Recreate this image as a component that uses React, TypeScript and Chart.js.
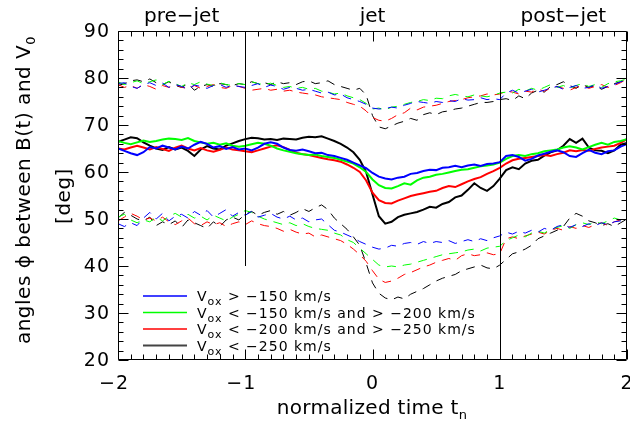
import { useEffect, useRef } from "react";
import { Chart, registerables } from "chart.js";

Chart.register(...registerables);

// normalized time t_n
const T = [
  -2.0, -1.95, -1.9, -1.85, -1.8, -1.75, -1.7, -1.65, -1.6, -1.55,
  -1.5, -1.45, -1.4, -1.35, -1.3, -1.25, -1.2, -1.15, -1.1, -1.05,
  -1.0, -0.95, -0.9, -0.85, -0.8, -0.75, -0.7, -0.65, -0.6, -0.55,
  -0.5, -0.45, -0.4, -0.35, -0.3, -0.25, -0.2, -0.15, -0.1, -0.05,
  0.0, 0.05, 0.1, 0.15, 0.2, 0.25, 0.3, 0.35, 0.4, 0.45,
  0.5, 0.55, 0.6, 0.65, 0.7, 0.75, 0.8, 0.85, 0.9, 0.95,
  1.0, 1.05, 1.1, 1.15, 1.2, 1.25, 1.3, 1.35, 1.4, 1.45,
  1.5, 1.55, 1.6, 1.65, 1.7, 1.75, 1.8, 1.85, 1.9, 1.95, 2.0,
];

// medians
const BLUE_MED = [
  65.0, 64.5, 64.0, 63.6, 64.2, 65.3, 65.0, 65.6, 65.2, 64.8,
  65.4, 65.0, 65.8, 66.4, 66.0, 65.2, 65.5, 64.9, 65.3, 64.8,
  65.0, 64.6, 65.2, 66.0, 66.3, 66.0, 65.2, 64.7, 64.5, 64.8,
  64.4, 64.0, 64.1, 63.6, 63.4, 63.0, 62.6, 62.0, 61.4, 60.8,
  59.8, 59.0, 58.6, 58.4, 58.8, 59.0, 59.6, 59.8, 60.2, 60.5,
  60.4, 60.9, 61.0, 61.3, 61.0, 61.4, 61.6, 61.3, 61.7, 61.8,
  62.1, 63.4, 63.6, 63.2, 62.4, 62.8, 63.5, 63.9, 64.3, 64.6,
  64.2, 63.4, 63.2, 64.0, 64.7, 64.1, 63.8, 64.4, 64.6, 65.4, 66.0,
];
const GREEN_MED = [
  66.6, 66.2, 65.9, 66.3, 66.7, 66.4, 66.6, 66.9, 67.1, 67.0,
  66.8, 67.2, 66.6, 66.3, 66.0, 66.2, 65.8, 66.1, 65.6, 65.4,
  65.6, 65.9, 66.2, 66.0, 65.6, 65.0, 64.6, 64.3, 64.0, 63.8,
  63.6, 63.7, 63.4, 63.2, 63.0, 62.6, 62.2, 61.8, 61.0, 60.0,
  58.4, 57.2, 56.6, 56.5, 57.0, 57.6, 57.3, 58.2, 58.8, 59.0,
  59.4, 59.6, 59.9, 60.2, 60.5, 60.6, 60.9, 61.2, 61.4, 61.6,
  62.0, 62.8, 63.4, 63.6, 63.4, 63.8, 64.0, 64.4, 64.6, 64.8,
  65.2, 65.5, 65.2, 64.8, 65.3, 65.8, 66.2, 65.8, 66.4, 66.6, 67.0,
];
const RED_MED = [
  65.0, 64.8, 65.2, 65.6, 65.2, 64.8, 65.3, 64.9, 64.5, 65.2,
  65.6, 65.0, 64.6, 65.1, 64.6, 64.3, 64.7, 65.2, 64.8, 64.6,
  64.4, 64.2, 64.6, 65.0, 65.4, 65.7, 65.3, 64.7, 64.1, 63.8,
  63.6, 63.3, 63.0, 62.7, 62.5, 62.2, 61.6, 60.9, 60.0, 58.2,
  55.6, 54.0, 53.4, 53.3, 53.9, 54.4, 54.9, 55.2, 55.5, 55.8,
  56.0, 56.6, 57.0, 56.8, 57.4, 58.0, 58.5, 58.9, 59.6, 60.2,
  60.9, 61.8, 62.5, 62.8, 63.0, 63.2, 63.4, 63.6, 63.4, 63.8,
  64.1, 64.6, 64.4, 64.7, 64.5, 64.9, 65.2, 65.4, 65.6, 66.2, 67.0,
];
const BLACK_MED = [
  66.4, 66.9, 67.4, 67.2, 66.3, 65.6, 65.0, 64.7, 65.3, 64.8,
  65.2, 64.5, 63.4, 64.8, 65.5, 65.0, 64.8, 65.6, 66.1, 66.6,
  67.0, 67.3, 67.2, 66.9, 67.0, 66.8, 67.1, 67.0, 66.9, 67.3,
  67.5, 67.4, 67.6, 67.1, 66.6, 66.0, 65.2, 64.2, 62.6, 60.0,
  55.2, 50.6, 49.0, 49.4, 50.4, 50.9, 51.2, 51.5, 52.0, 52.6,
  52.4, 53.2, 53.6, 54.6, 55.0, 56.2, 57.6, 56.6, 56.0, 57.0,
  58.6, 60.4, 61.0, 60.6, 61.8, 62.4, 62.6, 63.5, 64.2, 64.6,
  65.6, 67.0, 66.2, 67.1, 65.2, 64.6, 64.5, 64.0, 64.6, 65.8, 66.2,
];

// upper quartiles
const BLUE_UP = [
  78.8, 79.0, 78.2, 77.8, 78.6, 79.0, 78.4, 78.9, 78.0, 78.6,
  78.2, 77.6, 78.5, 78.2, 77.8, 78.4, 78.6, 78.0, 78.5, 78.2,
  78.0, 78.4, 78.8, 78.0, 78.5, 78.2, 77.6, 78.0, 77.8, 77.4,
  77.6, 77.2, 76.8, 77.0, 76.4, 76.6, 75.8, 75.4, 75.0, 74.4,
  73.6, 73.4, 73.5, 73.8, 73.6, 74.2, 74.6, 75.0, 74.8, 74.6,
  75.0, 74.8, 75.2, 75.0, 75.6, 75.3, 75.4, 75.8, 75.4, 75.6,
  75.4, 76.8, 77.4, 76.8, 77.2, 77.6, 77.0, 77.4, 77.8, 78.2,
  77.6, 78.0, 78.4, 77.8, 78.0, 78.6, 77.8, 78.2, 78.6, 79.2, 79.6,
];
const GREEN_UP = [
  79.2, 78.6, 79.0, 79.4, 78.8, 79.2, 79.6, 78.6, 79.3, 78.8,
  78.2, 79.0, 78.6, 79.2, 78.7, 78.4, 79.0, 78.6, 78.4, 78.8,
  78.6, 79.2, 78.8, 78.6, 78.9, 78.4, 78.0, 78.2, 77.8, 78.0,
  77.6, 77.8, 77.2, 77.0, 76.6, 76.8, 76.2, 75.8, 75.4, 74.6,
  73.4, 73.6, 73.2, 73.8, 74.0, 74.4, 74.8, 75.0, 75.4, 75.2,
  75.7, 75.6, 76.2, 76.5, 76.2, 76.0, 76.4, 76.2, 76.0, 76.3,
  76.8, 77.0, 76.8, 77.6, 77.2, 77.8, 77.4, 78.0, 78.6, 78.0,
  78.4, 77.8, 78.4, 78.8, 78.2, 78.6, 78.0, 78.8, 79.2, 79.4, 79.8,
];
const RED_UP = [
  78.6, 78.0, 78.4, 77.8, 78.6, 78.2, 77.6, 78.4, 78.0, 78.6,
  78.0, 77.8, 78.4, 77.8, 78.2, 78.6, 78.0, 77.8, 78.4, 78.2,
  77.8, 77.4, 77.6, 77.8, 77.4, 77.6, 77.2, 77.4, 77.0, 76.8,
  76.6, 76.4, 76.0, 75.8, 75.6, 75.4, 74.8, 74.4, 74.0, 73.0,
  71.6, 71.0, 70.8, 71.4, 72.2, 72.6, 73.6, 73.2, 73.8, 74.0,
  74.2, 74.6, 75.0, 75.2, 75.4, 75.8, 76.0, 76.2, 76.6, 76.4,
  76.6, 77.2, 77.0, 76.6, 77.2, 77.0, 77.6, 77.2, 77.8, 78.2,
  77.8, 77.4, 78.0, 78.4, 77.8, 78.2, 78.6, 78.0, 78.4, 79.0, 79.8,
];
const BLACK_UP = [
  78.4, 78.8, 79.4, 79.6, 79.2, 79.8, 79.0, 78.6, 79.2, 78.4,
  78.0, 78.8, 77.4, 78.2, 78.6, 78.2, 78.8, 78.6, 78.4, 78.8,
  78.6, 79.2, 78.8, 79.0, 78.6, 79.2, 78.8, 79.0, 78.6, 79.2,
  79.4, 78.8, 79.0, 79.4, 78.6, 78.2, 77.8, 77.4, 77.8, 76.4,
  72.0, 69.6, 69.2, 69.8, 70.4, 70.8, 71.4, 71.0, 72.2, 72.6,
  72.2, 72.8, 73.0, 73.4, 73.6, 74.0, 74.4, 74.8, 74.8, 75.0,
  75.4, 75.6, 75.2, 76.2, 75.6, 76.8, 77.4, 77.0, 78.2, 78.6,
  79.2, 78.4, 77.8, 78.6, 78.0, 78.4, 77.6, 78.2, 78.8, 79.2, 79.6,
];

// lower quartiles
const BLUE_LO = [
  49.0, 48.4, 49.2, 48.6, 50.2, 51.4, 50.0, 51.2, 49.6, 50.6,
  51.0, 50.2, 51.6, 50.8, 51.8, 50.4, 51.2, 52.0, 50.6, 51.4,
  50.8, 51.6, 50.4, 50.8, 51.2, 50.4, 50.0, 50.6, 49.8, 50.2,
  49.4, 49.8, 50.0, 48.8, 47.6, 47.2, 46.6, 46.0, 45.2, 44.6,
  44.0, 43.6, 43.8, 44.4, 44.2, 44.8, 45.0, 44.6, 45.2, 44.8,
  45.2, 45.0, 45.4, 44.8, 45.2, 45.6, 45.2, 45.8, 45.4, 46.0,
  46.4, 47.2, 46.8, 47.4, 47.0, 47.6, 47.2, 48.0, 47.6, 48.4,
  48.8, 48.2, 48.8, 48.4, 49.0, 48.6, 49.2, 48.8, 49.4, 49.6, 50.2,
];
const GREEN_LO = [
  50.4, 51.0, 49.8, 49.2, 49.8, 49.4, 50.4, 49.6, 50.6, 51.2,
  50.4, 51.0, 50.2, 50.6, 49.8, 50.8, 50.2, 49.6, 50.4, 51.0,
  51.8, 51.4, 50.6, 50.0, 49.6, 49.2, 48.8, 49.2, 48.6, 49.0,
  48.4, 48.0, 47.8, 47.6, 47.0, 46.6, 45.6, 45.0, 43.8, 42.6,
  41.4, 40.2, 39.8, 40.0, 39.8, 40.2, 40.4, 40.8, 41.2, 41.6,
  42.0, 42.4, 42.6, 42.8, 43.0, 43.4, 43.6, 43.2, 43.8, 44.0,
  44.2, 45.4, 46.0, 46.6, 46.2, 47.0, 47.4, 47.0, 47.8, 48.2,
  48.6, 48.0, 48.8, 49.2, 48.8, 49.4, 49.0, 49.6, 50.2, 49.8, 50.4,
];
const RED_LO = [
  49.6, 50.4, 51.2, 50.6, 49.8, 50.2, 49.6, 50.4, 49.4, 48.8,
  49.6, 50.2, 49.0, 48.6, 49.4, 48.8, 49.2, 48.4, 49.0, 49.4,
  48.8, 49.6, 49.0, 48.6, 48.4, 48.0, 47.4, 47.8, 47.2, 46.8,
  47.0, 46.2, 46.6, 46.2, 45.8, 45.4, 44.6, 43.6, 42.4, 41.0,
  39.0, 37.2, 36.5, 36.8, 37.4, 38.2, 38.6, 39.2, 39.8, 40.2,
  40.8, 41.2, 41.6, 41.2, 42.2, 42.6, 42.2, 42.4, 42.8, 42.4,
  42.6, 45.8, 46.2, 45.8, 46.4, 46.8, 47.2, 46.8, 47.6, 48.0,
  47.6, 48.4, 48.0, 48.6, 48.2, 48.8, 49.2, 48.6, 49.4, 49.8, 50.6,
];
const BLACK_LO = [
  50.2, 51.4, 50.8, 50.0, 49.6, 50.4, 48.6, 49.4, 48.8, 49.6,
  48.2, 49.8, 49.2, 48.6, 48.0, 49.4, 48.4, 49.8, 50.4, 49.8,
  51.0, 51.6, 50.8, 51.4, 51.8, 51.0, 51.6, 50.8, 51.4, 52.2,
  51.6, 52.4, 53.0, 52.0, 50.2, 49.0, 47.8, 46.2, 44.4, 40.6,
  36.4, 34.2, 33.2, 32.8, 33.4, 33.0, 34.0, 34.6, 35.2, 36.0,
  36.8, 37.4, 37.8, 38.2, 39.0, 39.4, 39.8, 40.2, 39.6, 39.4,
  40.2, 41.4, 42.6, 43.0, 43.6, 44.4, 45.8, 46.4, 47.0, 47.6,
  48.4, 50.2, 51.2, 50.6, 49.6, 49.2, 48.6, 49.0, 48.4, 49.2, 50.0,
];

const COLORS = ["#0000ff", "#00ff00", "#ff0000", "#000000"];
const LEGEND_TEXT = [
  " > \u2212150 km/s",
  " < \u2212150 km/s and > \u2212200 km/s",
  " < \u2212200 km/s and > \u2212250 km/s",
  " < \u2212250 km/s",
];
const PHASES = [
  { label: "pre\u2212jet", at: -1.5 },
  { label: "jet", at: 0 },
  { label: "post\u2212jet", at: 1.5 },
];
const X_TICKS = [-2, -1, 0, 1, 2];
const Y_TICKS = [20, 30, 40, 50, 60, 70, 80, 90];

const FONT = "'DejaVu Sans', sans-serif";
const W = "400";

const MEDIANS = [BLUE_MED, GREEN_MED, RED_MED, BLACK_MED];
const UPPERS = [BLUE_UP, GREEN_UP, RED_UP, BLACK_UP];
const LOWERS = [BLUE_LO, GREEN_LO, RED_LO, BLACK_LO];

const pts = (arr: number[]) => arr.map((v, i) => ({ x: T[i], y: v }));

function drawParts(
  ctx: CanvasRenderingContext2D,
  parts: { t: string; sub?: boolean }[],
  x: number,
  y: number,
  size: number,
  subSize: number,
  subDrop: number,
  spacing: number,
  align: "left" | "center"
) {
  ctx.textAlign = "left";
  ctx.textBaseline = "alphabetic";
  (ctx as any).letterSpacing = spacing + "px";
  let total = 0;
  const widths = parts.map((p) => {
    ctx.font = `${W} ${p.sub ? subSize : size}px ${FONT}`;
    const w = ctx.measureText(p.t).width;
    total += w;
    return w;
  });
  let cx = align === "center" ? x - total / 2 : x;
  parts.forEach((p, i) => {
    ctx.font = `${W} ${p.sub ? subSize : size}px ${FONT}`;
    ctx.fillText(p.t, cx, p.sub ? y + subDrop : y);
    cx += widths[i];
  });
  (ctx as any).letterSpacing = "0px";
}

const decor = {
  id: "decor",
  afterDatasetsDraw(chart: any) {
    const { ctx, chartArea: a, scales } = chart;
    const xs = scales.x;
    const ys = scales.y;
    const L = Math.round(a.left) + 0.5;
    const R = Math.round(a.right) - 0.5;
    const Tp = Math.round(a.top) + 0.5;
    const B = Math.round(a.bottom) - 0.5;
    ctx.save();
    ctx.strokeStyle = "#000";
    ctx.fillStyle = "#000";
    ctx.lineWidth = 1;
    ctx.setLineDash([]);
    ctx.beginPath();
    ctx.rect(L, Tp, R - L, B - Tp);
    for (let i = -20; i <= 20; i++) {
      const px = Math.round(xs.getPixelForValue(i / 10)) + 0.5;
      const len = i % 10 === 0 ? 10 : 5;
      ctx.moveTo(px, B);
      ctx.lineTo(px, B - len);
      ctx.moveTo(px, Tp);
      ctx.lineTo(px, Tp + len);
    }
    for (let v = 20; v <= 90; v += 2) {
      const py = Math.round(ys.getPixelForValue(v)) + 0.5;
      const len = v % 10 === 0 ? 10 : 5;
      ctx.moveTo(L, py);
      ctx.lineTo(L + len, py);
      ctx.moveTo(R, py);
      ctx.lineTo(R - len, py);
    }
    const p1 = Math.round(xs.getPixelForValue(-1)) + 0.5;
    ctx.moveTo(p1, Math.round(ys.getPixelForValue(40)));
    ctx.lineTo(p1, Tp);
    const p2 = Math.round(xs.getPixelForValue(1)) + 0.5;
    ctx.moveTo(p2, B);
    ctx.lineTo(p2, Tp);
    ctx.stroke();

    // tick labels
    ctx.font = `${W} 19px ${FONT}`;
    (ctx as any).letterSpacing = "1px";
    ctx.textAlign = "right";
    ctx.textBaseline = "middle";
    Y_TICKS.forEach((v) => {
      ctx.fillText(String(v), 110, ys.getPixelForValue(v) + 1);
    });
    ctx.textAlign = "center";
    X_TICKS.forEach((v) => {
      const s = v < 0 ? "\u2212" + Math.abs(v) : String(v);
      ctx.fillText(s, xs.getPixelForValue(v) + (v < 0 ? -4 : 0), 384);
    });
    (ctx as any).letterSpacing = "0px";

    PHASES.forEach((p) => {
      drawParts(ctx, [{ t: p.label }], xs.getPixelForValue(p.at), 22, 20, 14, 0, 0, "center");
    });

    drawParts(
      ctx,
      [{ t: "normalized time t" }, { t: "n", sub: true }],
      372,
      414,
      20,
      13,
      5,
      0.3,
      "center"
    );

    ctx.save();
    ctx.translate(30, 190);
    ctx.rotate(-Math.PI / 2);
    drawParts(
      ctx,
      [{ t: "angles \u03d5 between B(t) and V" }, { t: "0", sub: true }],
      0,
      0,
      20,
      13,
      5,
      0.5,
      "center"
    );
    ctx.restore();
    ctx.save();
    ctx.translate(70, 196);
    ctx.rotate(-Math.PI / 2);
    drawParts(ctx, [{ t: "[deg]" }], 0, 0, 20, 13, 0, 0.5, "center");
    ctx.restore();

    // legend
    const ly = [296, 312.5, 329, 345.5];
    COLORS.forEach((c, i) => {
      ctx.beginPath();
      ctx.setLineDash([]);
      ctx.strokeStyle = i === 3 ? "#444444" : c;
      ctx.lineWidth = i === 3 ? 2 : 1.5;
      ctx.moveTo(143, ly[i]);
      ctx.lineTo(187, ly[i]);
      ctx.stroke();
      ctx.fillStyle = "#000";
      drawParts(
        ctx,
        [{ t: "V" }, { t: "ox", sub: true }, { t: LEGEND_TEXT[i] }],
        197,
        ly[i] + 5,
        14,
        11,
        4,
        1,
        "left"
      );
    });
    ctx.restore();
  },
};

export default function App() {
  const ref = useRef<HTMLCanvasElement | null>(null);
  useEffect(() => {
    document.body.style.margin = "0";
    const canvas = ref.current!;
    const datasets: any[] = [];
    COLORS.forEach((c, i) => {
      datasets.push({
        data: pts(UPPERS[i]),
        borderColor: c,
        borderWidth: 1,
        borderDash: [9, 7],
        pointRadius: 0,
        tension: 0,
      });
      datasets.push({
        data: pts(LOWERS[i]),
        borderColor: c,
        borderWidth: 1,
        borderDash: [9, 7],
        pointRadius: 0,
        tension: 0,
      });
    });
    COLORS.forEach((c, i) => {
      datasets.push({
        data: pts(MEDIANS[i]),
        borderColor: c,
        borderWidth: 2,
        pointRadius: 0,
        tension: 0,
      });
    });
    const chart = new Chart(canvas, {
      type: "line",
      data: { datasets },
      options: {
        responsive: false,
        animation: false,
        devicePixelRatio: 1,
        layout: { padding: { left: 118, right: 3, top: 31, bottom: 62 } },
        plugins: { legend: { display: false }, tooltip: { enabled: false } },
        scales: {
          x: { type: "linear", min: -2, max: 2, display: false },
          y: { type: "linear", min: 20, max: 90, display: false },
        },
      },
      plugins: [decor],
    });
    return () => chart.destroy();
  }, []);
  return (
    <canvas
      ref={ref}
      width={630}
      height={422}
      style={{ display: "block", width: 630, height: 422, background: "#fff" }}
    />
  );
}
